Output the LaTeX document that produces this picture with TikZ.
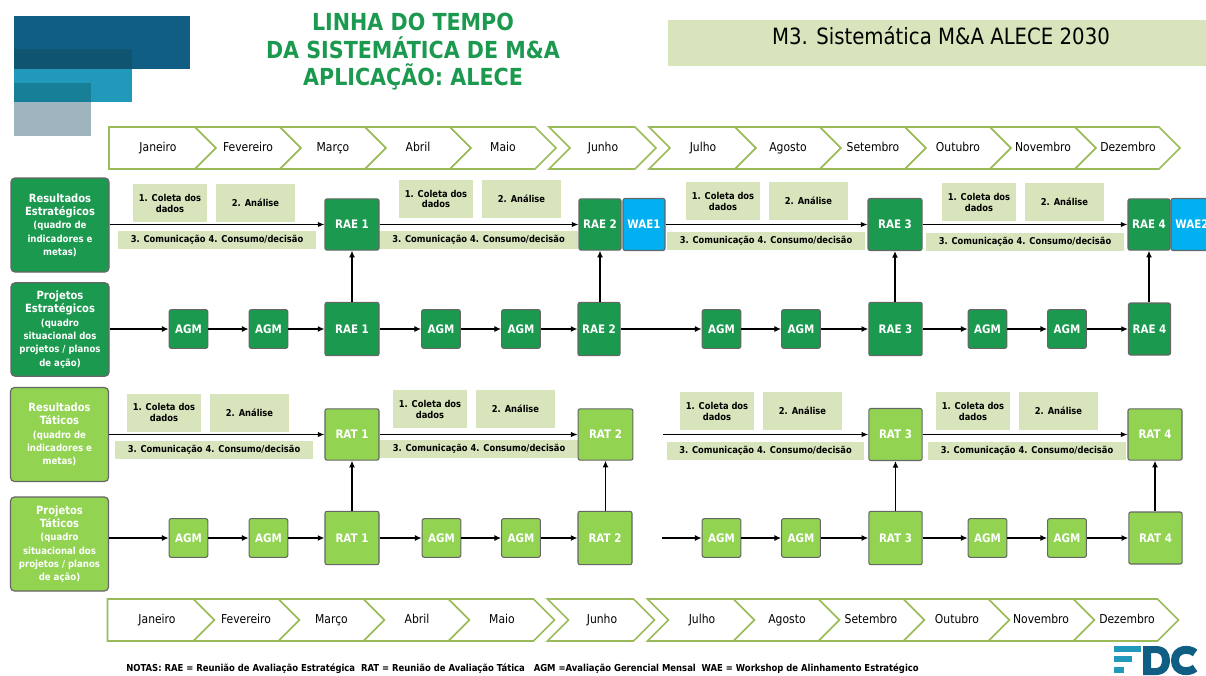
\documentclass[tikz,border=0pt]{standalone}
\usepackage{fontspec}
\usetikzlibrary{arrows.meta}
\setmainfont{DejaVu Sans}[FakeStretch=0.88]
\definecolor{greendark}{RGB}{27,153,79}
\definecolor{greenlight}{RGB}{146,212,82}
\definecolor{bluewae}{RGB}{0,176,240}
\definecolor{paleolive}{RGB}{216,228,188}
\definecolor{lineolive}{RGB}{155,187,89}
\definecolor{logodark}{RGB}{17,94,133}
\definecolor{logomid}{RGB}{32,153,187}
\definecolor{logogrey}{RGB}{159,180,190}
\newcommand{\subfont}{\fontsize{7.3}{8.2}\selectfont}
\tikzset{
  titletext/.style={text=greendark,text height=13pt,text depth=0pt,inner sep=0pt,font=\bfseries\fontsize{17.6}{20}\selectfont},
  monthshape/.style={draw=lineolive,line width=1.2pt,fill=white},
  monthtext/.style={inner sep=0.75pt,text height=7pt,text depth=2pt,font=\fontsize{9.2}{11}\selectfont},
  sidebox/.style={draw=black!60,line width=0.9pt,rounded corners=3pt,align=center,text=white,inner sep=0pt,font=\bfseries\fontsize{8.5}{10}\selectfont},
  meetbox/.style={draw=black!60,line width=0.8pt,rounded corners=1.5pt,text=white,inner sep=0pt,font=\bfseries\fontsize{8.8}{10}\selectfont},
  stepbox/.style={fill=paleolive,inner sep=0pt,align=center,font=\bfseries\fontsize{7.1}{8.2}\selectfont},
  flowthin/.style={-{Latex[length=5pt,width=4pt]},line width=0.75pt},
  flowthick/.style={-{Latex[length=5pt,width=4.5pt]},line width=1.5pt},
  flowup/.style={-{Latex[length=5pt,width=4.5pt]},line width=1pt},
}
\begin{document}
\begin{tikzpicture}[x=0.75pt,y=0.75pt,yscale=-1,xscale=1]
\useasboundingbox (0,0) rectangle (1206,675);

%Logo blocks
\fill [logodark] (14,16) rectangle (190,69) ;
\fill [logomid] (14,49) rectangle (132,102) ;
\fill [logogrey] (14,83) rectangle (91,136) ;
\fill [color={rgb, 255:red, 15; green, 85; blue, 114 }] (14,49) rectangle (132,69) ;
\fill [color={rgb, 255:red, 23; green, 127; blue, 152 }] (14,83) rectangle (91,102) ;

% Title
\node (titleone) [titletext] at (413,22) {LINHA DO TEMPO};
\node (titletwo) [titletext] at (413,50) {DA SISTEMÁTICA DE M\&A};
\node (titlethree) [titletext] at (413,77) {APLICAÇÃO: ALECE};
\fill [paleolive] (668,20) rectangle (1206,66) ;
\node (moduletitle) [text height=12pt,text depth=3pt,inner sep=0pt,font=\fontsize{16.8}{20}\selectfont] at (941,38) {M3. Sistemática M\&A ALECE 2030};

%Top months
\draw [monthshape] (109,127) -- (195,127) -- (216,148) -- (195,169) -- (109,169) -- cycle ;
\draw [monthshape] (195,127) -- (280,127) -- (301,148) -- (280,169) -- (195,169) -- (216,148) -- cycle ;
\draw [monthshape] (280,127) -- (365,127) -- (386,148) -- (365,169) -- (280,169) -- (301,148) -- cycle ;
\draw [monthshape] (365,127) -- (450,127) -- (471,148) -- (450,169) -- (365,169) -- (386,148) -- cycle ;
\draw [monthshape] (450,127) -- (535,127) -- (556,148) -- (535,169) -- (450,169) -- (471,148) -- cycle ;
\draw [monthshape] (549,127) -- (635,127) -- (656,148) -- (635,169) -- (549,169) -- (570,148) -- cycle ;
\draw [monthshape] (649,127) -- (735,127) -- (756,148) -- (735,169) -- (649,169) -- (670,148) -- cycle ;
\draw [monthshape] (735,127) -- (820,127) -- (841,148) -- (820,169) -- (735,169) -- (756,148) -- cycle ;
\draw [monthshape] (820,127) -- (905,127) -- (926,148) -- (905,169) -- (820,169) -- (841,148) -- cycle ;
\draw [monthshape] (905,127) -- (990,127) -- (1011,148) -- (990,169) -- (905,169) -- (926,148) -- cycle ;
\draw [monthshape] (990,127) -- (1075,127) -- (1096,148) -- (1075,169) -- (990,169) -- (1011,148) -- cycle ;
\draw [monthshape] (1075,127) -- (1159,127) -- (1180,148) -- (1159,169) -- (1075,169) -- (1096,148) -- cycle ;
\node (topjan) [monthtext] at (158,148) {Janeiro};
\node (topfev) [monthtext] at (248,148) {Fevereiro};
\node (topmar) [monthtext] at (333,148) {Março};
\node (topabr) [monthtext] at (418,148) {Abril};
\node (topmai) [monthtext] at (503,148) {Maio};
\node (topjun) [monthtext] at (603,148) {Junho};
\node (topjul) [monthtext] at (703,148) {Julho};
\node (topago) [monthtext] at (788,148) {Agosto};
\node (topset) [monthtext] at (873,148) {Setembro};
\node (topout) [monthtext] at (958,148) {Outubro};
\node (topnov) [monthtext] at (1043,148) {Novembro};
\node (topdez) [monthtext] at (1128,148) {Dezembro};

%Bottom months
\draw [monthshape] (107.5,599) -- (193.5,599) -- (214.5,620) -- (193.5,641) -- (107.5,641) -- cycle ;
\draw [monthshape] (193.5,599) -- (278.5,599) -- (299.5,620) -- (278.5,641) -- (193.5,641) -- (214.5,620) -- cycle ;
\draw [monthshape] (278.5,599) -- (363.5,599) -- (384.5,620) -- (363.5,641) -- (278.5,641) -- (299.5,620) -- cycle ;
\draw [monthshape] (363.5,599) -- (448.5,599) -- (469.5,620) -- (448.5,641) -- (363.5,641) -- (384.5,620) -- cycle ;
\draw [monthshape] (448.5,599) -- (533.5,599) -- (554.5,620) -- (533.5,641) -- (448.5,641) -- (469.5,620) -- cycle ;
\draw [monthshape] (547.5,599) -- (633.5,599) -- (654.5,620) -- (633.5,641) -- (547.5,641) -- (568.5,620) -- cycle ;
\draw [monthshape] (647.5,599) -- (733.5,599) -- (754.5,620) -- (733.5,641) -- (647.5,641) -- (668.5,620) -- cycle ;
\draw [monthshape] (733.5,599) -- (818.5,599) -- (839.5,620) -- (818.5,641) -- (733.5,641) -- (754.5,620) -- cycle ;
\draw [monthshape] (818.5,599) -- (903.5,599) -- (924.5,620) -- (903.5,641) -- (818.5,641) -- (839.5,620) -- cycle ;
\draw [monthshape] (903.5,599) -- (988.5,599) -- (1009.5,620) -- (988.5,641) -- (903.5,641) -- (924.5,620) -- cycle ;
\draw [monthshape] (988.5,599) -- (1073.5,599) -- (1094.5,620) -- (1073.5,641) -- (988.5,641) -- (1009.5,620) -- cycle ;
\draw [monthshape] (1073.5,599) -- (1157.5,599) -- (1178.5,620) -- (1157.5,641) -- (1073.5,641) -- (1094.5,620) -- cycle ;
\node (botjan) [monthtext] at (157,620) {Janeiro};
\node (botfev) [monthtext] at (246,620) {Fevereiro};
\node (botmar) [monthtext] at (331.5,620) {Março};
\node (botabr) [monthtext] at (417,620) {Abril};
\node (botmai) [monthtext] at (502,620) {Maio};
\node (botjun) [monthtext] at (602,620) {Junho};
\node (botjul) [monthtext] at (702,620) {Julho};
\node (botago) [monthtext] at (787,620) {Agosto};
\node (botset) [monthtext] at (871,620) {Setembro};
\node (botout) [monthtext] at (957,620) {Outubro};
\node (botnov) [monthtext] at (1041,620) {Novembro};
\node (botdez) [monthtext] at (1127,620) {Dezembro};

%Side boxes
\node (resest) [sidebox,fill=greendark,minimum width=73.5pt,minimum height=70.5pt] at (60,225) {Resultados\\Estratégicos\\\subfont (quadro de\\\subfont indicadores e\\\subfont metas)};
\node (proest) [sidebox,fill=greendark,minimum width=73.5pt,minimum height=70pt] at (60,329.5) {Projetos\\Estratégicos\\\subfont (quadro\\\subfont situacional dos\\\subfont projetos / planos\\\subfont de ação)};
\node (restat) [sidebox,fill=greenlight,minimum width=73.5pt,minimum height=70.5pt] at (59.5,434.5) {Resultados\\Táticos\\\subfont (quadro de\\\subfont indicadores e\\\subfont metas)};
\node (protat) [sidebox,fill=greenlight,minimum width=73.5pt,minimum height=70.5pt] at (59.5,544) {Projetos\\Táticos\\\subfont (quadro\\\subfont situacional dos\\\subfont projetos / planos\\\subfont de ação)};

%Step labels first row
\node (coletaa) [stepbox,minimum width=55.5pt,minimum height=28.5pt] at (170,203) {1. Coleta dos\\dados};
\node (analisea) [stepbox,minimum width=59pt,minimum height=28.5pt] at (255.5,203) {2. Análise};
\node (comuna) [stepbox,minimum width=148.5pt,minimum height=13.5pt] at (217,240) {3. Comunicação 4. Consumo/decisão};
\node (coletab) [stepbox,minimum width=55.5pt,minimum height=28.5pt] at (436,199) {1. Coleta dos\\dados};
\node (analiseb) [stepbox,minimum width=59pt,minimum height=28.5pt] at (521.5,199) {2. Análise};
\node (comunb) [stepbox,minimum width=149pt,minimum height=13.5pt] at (478.5,240) {3. Comunicação 4. Consumo/decisão};
\node (coletac) [stepbox,minimum width=55.5pt,minimum height=28.5pt] at (723,201) {1. Coleta dos\\dados};
\node (analisec) [stepbox,minimum width=59pt,minimum height=28.5pt] at (808.5,201) {2. Análise};
\node (comunc) [stepbox,minimum width=148.5pt,minimum height=13.5pt] at (766,241) {3. Comunicação 4. Consumo/decisão};
\node (coletad) [stepbox,minimum width=55.5pt,minimum height=28.5pt] at (979,202) {1. Coleta dos\\dados};
\node (analised) [stepbox,minimum width=59pt,minimum height=28.5pt] at (1064.5,202) {2. Análise};
\node (comund) [stepbox,minimum width=148.5pt,minimum height=13.5pt] at (1025,242) {3. Comunicação 4. Consumo/decisão};

%Step labels third row
\node (coletae) [stepbox,minimum width=55.5pt,minimum height=28.5pt] at (164,412.5) {1. Coleta dos\\dados};
\node (analisee) [stepbox,minimum width=59pt,minimum height=28.5pt] at (249.5,412.5) {2. Análise};
\node (comune) [stepbox,minimum width=148.5pt,minimum height=13.5pt] at (214,450) {3. Comunicação 4. Consumo/decisão};
\node (coletaf) [stepbox,minimum width=55.5pt,minimum height=28.5pt] at (430,409) {1. Coleta dos\\dados};
\node (analisef) [stepbox,minimum width=59pt,minimum height=28.5pt] at (515.5,409) {2. Análise};
\node (comunf) [stepbox,minimum width=148.5pt,minimum height=13.5pt] at (479,449) {3. Comunicação 4. Consumo/decisão};
\node (coletag) [stepbox,minimum width=55.5pt,minimum height=28.5pt] at (717,411) {1. Coleta dos\\dados};
\node (analiseg) [stepbox,minimum width=59pt,minimum height=28.5pt] at (802.5,411) {2. Análise};
\node (comung) [stepbox,minimum width=148pt,minimum height=13.5pt] at (765.5,451) {3. Comunicação 4. Consumo/decisão};
\node (coletah) [stepbox,minimum width=55.5pt,minimum height=28.5pt] at (973,411) {1. Coleta dos\\dados};
\node (analiseh) [stepbox,minimum width=59pt,minimum height=28.5pt] at (1058.5,411) {2. Análise};
\node (comunh) [stepbox,minimum width=148.5pt,minimum height=13.5pt] at (1027,451) {3. Comunicação 4. Consumo/decisão};

%Meetings first row
\node (raeta) [meetbox,fill=greendark,minimum width=40.5pt,minimum height=38.5pt] at (352,224.5) {RAE 1};
\node (raetb) [meetbox,fill=greendark,minimum width=31.5pt,minimum height=38.5pt] at (600,224.5) {RAE 2};
\node (waea) [meetbox,fill=bluewae,minimum width=31.5pt,minimum height=39pt] at (644,224.5) {WAE1};
\node (raetc) [meetbox,fill=greendark,minimum width=40.5pt,minimum height=39pt] at (895,224.5) {RAE 3};
\node (raetd) [meetbox,fill=greendark,minimum width=31.5pt,minimum height=38.5pt] at (1149,224.5) {RAE 4};
\node (waeb) [meetbox,fill=bluewae,minimum width=31.5pt,minimum height=39pt] at (1192,224.5) {WAE2};

%Meetings second row
\node (agma) [meetbox,fill=greendark,minimum width=29pt,minimum height=29pt] at (188.5,329) {AGM};
\node (agmb) [meetbox,fill=greendark,minimum width=29pt,minimum height=29pt] at (268.5,329) {AGM};
\node (raema) [meetbox,fill=greendark,minimum width=40.5pt,minimum height=40pt] at (352,329) {RAE 1};
\node (agmc) [meetbox,fill=greendark,minimum width=29pt,minimum height=29pt] at (441,329) {AGM};
\node (agmd) [meetbox,fill=greendark,minimum width=29pt,minimum height=29pt] at (521,329) {AGM};
\node (raemb) [meetbox,fill=greendark,minimum width=31.5pt,minimum height=40pt] at (599,329) {RAE 2};
\node (agme) [meetbox,fill=greendark,minimum width=29pt,minimum height=29pt] at (721.5,329) {AGM};
\node (agmf) [meetbox,fill=greendark,minimum width=29pt,minimum height=29pt] at (801,329) {AGM};
\node (raemc) [meetbox,fill=greendark,minimum width=40pt,minimum height=40pt] at (895.5,329) {RAE 3};
\node (agmg) [meetbox,fill=greendark,minimum width=29pt,minimum height=29pt] at (987.5,329) {AGM};
\node (agmh) [meetbox,fill=greendark,minimum width=29pt,minimum height=29pt] at (1067,329) {AGM};
\node (raemd) [meetbox,fill=greendark,minimum width=31.5pt,minimum height=39pt] at (1149.5,329) {RAE 4};

%Meetings third row
\node (ratta) [meetbox,fill=greenlight,minimum width=40.5pt,minimum height=38.5pt] at (352,434.5) {RAT 1};
\node (rattb) [meetbox,fill=greenlight,minimum width=41pt,minimum height=38.5pt] at (605.5,434.5) {RAT 2};
\node (rattc) [meetbox,fill=greenlight,minimum width=40pt,minimum height=39pt] at (895.5,434.5) {RAT 3};
\node (rattd) [meetbox,fill=greenlight,minimum width=40.5pt,minimum height=38.5pt] at (1155,434.5) {RAT 4};

%Meetings fourth row
\node (agmi) [meetbox,fill=greenlight,minimum width=29pt,minimum height=29pt] at (188.5,538) {AGM};
\node (agmj) [meetbox,fill=greenlight,minimum width=29pt,minimum height=29pt] at (268.5,538) {AGM};
\node (ratma) [meetbox,fill=greenlight,minimum width=40.5pt,minimum height=40pt] at (352,538) {RAT 1};
\node (agmk) [meetbox,fill=greenlight,minimum width=29pt,minimum height=29pt] at (441.5,538) {AGM};
\node (agml) [meetbox,fill=greenlight,minimum width=29pt,minimum height=29pt] at (521,538) {AGM};
\node (ratmb) [meetbox,fill=greenlight,minimum width=40.5pt,minimum height=40pt] at (605,538) {RAT 2};
\node (agmm) [meetbox,fill=greenlight,minimum width=29pt,minimum height=29pt] at (721.5,538) {AGM};
\node (agmn) [meetbox,fill=greenlight,minimum width=29pt,minimum height=29pt] at (801,538) {AGM};
\node (ratmc) [meetbox,fill=greenlight,minimum width=40pt,minimum height=40pt] at (895.5,538) {RAT 3};
\node (agmo) [meetbox,fill=greenlight,minimum width=29pt,minimum height=29pt] at (987.5,538) {AGM};
\node (agmp) [meetbox,fill=greenlight,minimum width=29pt,minimum height=29pt] at (1067,538) {AGM};
\node (ratmd) [meetbox,fill=greenlight,minimum width=40pt,minimum height=39pt] at (1155.5,538) {RAT 4};

%Free ends of third and fourth row
\coordinate (startc) at (663,434.5) ;
\coordinate (startd) at (662,538) ;

%Arrows first row
\draw [flowthin] (resest.east |- raeta) -- (raeta) ;
\draw [flowthin] (raeta) -- (raetb) ;
\draw [flowthin] (waea) -- (raetc) ;
\draw [flowthin] (raetc) -- (raetd) ;

%Arrows second row
\draw [flowthick] (proest.east |- agma) -- (agma) ;
\draw [flowthick] (agma) -- (agmb) ;
\draw [flowthick] (agmb) -- (raema) ;
\draw [flowthick] (raema) -- (agmc) ;
\draw [flowthick] (agmc) -- (agmd) ;
\draw [flowthick] (agmd) -- (raemb) ;
\draw [flowthick] (raemb) -- (agme) ;
\draw [flowthick] (agme) -- (agmf) ;
\draw [flowthick] (agmf) -- (raemc) ;
\draw [flowthick] (raemc) -- (agmg) ;
\draw [flowthick] (agmg) -- (agmh) ;
\draw [flowthick] (agmh) -- (raemd) ;

%Arrows third row
\draw [flowthin] (restat.east |- ratta) -- (ratta) ;
\draw [flowthin] (ratta) -- (rattb) ;
\draw [flowthin] (startc) -- (rattc) ;
\draw [flowthin] (rattc) -- (rattd) ;

%Arrows fourth row
\draw [flowthick] (protat.east |- agmi) -- (agmi) ;
\draw [flowthick] (agmi) -- (agmj) ;
\draw [flowthick] (agmj) -- (ratma) ;
\draw [flowthick] (ratma) -- (agmk) ;
\draw [flowthick] (agmk) -- (agml) ;
\draw [flowthick] (agml) -- (ratmb) ;
\draw [flowthick] (startd) -- (agmm) ;
\draw [flowthick] (agmm) -- (agmn) ;
\draw [flowthick] (agmn) -- (ratmc) ;
\draw [flowthick] (ratmc) -- (agmo) ;
\draw [flowthick] (agmo) -- (agmp) ;
\draw [flowthick] (agmp) -- (ratmd) ;

%Arrows up
\draw [flowup] (raema) -- (raeta) ;
\draw [flowup] (raemb.north -| raetb) -- (raetb) ;
\draw [flowup] (raemc.north -| raetc) -- (raetc) ;
\draw [flowup] (raemd.north -| raetd) -- (raetd) ;
\draw [flowup] (ratma) -- (ratta) ;
\draw [flowup] (ratmb.north -| rattb) -- (rattb) ;
\draw [flowup] (ratmc.north -| rattc) -- (rattc) ;
\draw [flowup] (ratmd.north -| rattd) -- (rattd) ;

% Notes
\node (notas) [anchor=west,inner sep=0pt,font=\bfseries\fontsize{7.2}{8}\selectfont] at (126,669) {NOTAS: RAE = Reunião de Avaliação Estratégica\ \ RAT = Reunião de Avaliação Tática\ \ \ AGM =Avaliação Gerencial Mensal\ \ WAE = Workshop de Alinhamento Estratégico};

%Logo letters
\fill [logomid] (1114,646) rectangle (1141,652) ;
\fill [logomid] (1114,656) rectangle (1132,662) ;
\fill [logomid] (1114,667) rectangle (1124,673) ;
\fill [logodark,even odd rule] (1143,646) -- (1156,646) .. controls (1166,646) and (1170,653) .. (1170,660) .. controls (1170,668) and (1166,675) .. (1156,675) -- (1143,675) -- cycle (1151,653) -- (1151,668) -- (1156,668) .. controls (1160,668) and (1162,665) .. (1162,660) .. controls (1162,656) and (1160,653) .. (1156,653) -- cycle ;
\draw [logodark,line width=6pt] (1195,653) .. controls (1190,648) and (1175,648) .. (1175,660.5) .. controls (1175,673) and (1190,673) .. (1195,668) ;

\end{tikzpicture}
\end{document}
